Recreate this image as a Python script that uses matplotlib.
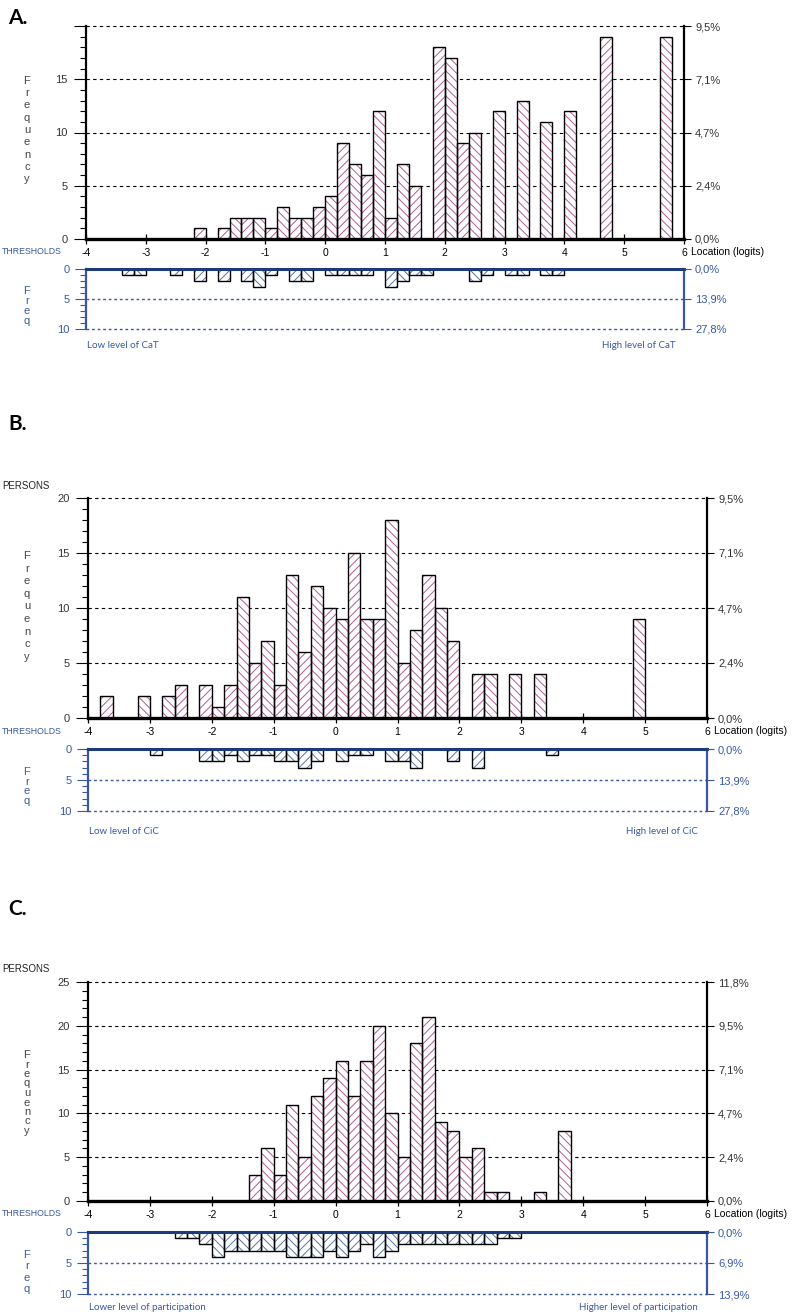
import numpy as np
import matplotlib
matplotlib.use("Agg")
import matplotlib.pyplot as plt
from matplotlib.ticker import MultipleLocator

plt.rcParams["font.family"] = ["Liberation Sans", "DejaVu Sans"]
plt.rcParams["hatch.linewidth"] = 0.7

BIN = 0.2
XMIN, XMAX = -4, 6
x_ticks = [-4, -3, -2, -1, 0, 1, 2, 3, 4, 5, 6]

# A. CaT  (bin left edge, count)
a_person_bins = [-2.2, -1.8, -1.6, -1.4, -1.2, -1.0, -0.8, -0.6, -0.4, -0.2, 0.0, 0.2, 0.4, 0.6,
                 0.8, 1.0, 1.2, 1.4, 1.8, 2.0, 2.2, 2.4, 2.8, 3.2, 3.6, 4.0, 4.6, 5.6]
a_person_counts = [1, 1, 2, 2, 2, 1, 3, 2, 2, 3, 4, 9, 7, 6,
                   12, 2, 7, 5, 18, 17, 9, 10, 12, 13, 11, 12, 19, 19]
a_thr_bins = [-3.4, -3.2, -2.6, -2.2, -1.8, -1.4, -1.2, -1.0, -0.6, -0.4, 0.0, 0.2,
              0.4, 0.6, 1.0, 1.2, 1.4, 1.6, 2.4, 2.6, 3.0, 3.2, 3.6, 3.8]
a_thr_counts = [1, 1, 1, 2, 2, 2, 3, 1, 2, 2, 1, 1,
                1, 1, 3, 2, 1, 1, 2, 1, 1, 1, 1, 1]
a_thr_total = 36

# B. CiC
b_person_bins = [-3.8, -3.2, -2.8, -2.6, -2.2, -2.0, -1.8, -1.6, -1.4, -1.2, -1.0, -0.8, -0.6, -0.4, -0.2,
                 0.0, 0.2, 0.4, 0.6, 0.8, 1.0, 1.2, 1.4, 1.6, 1.8, 2.2, 2.4, 2.8, 3.2, 4.8]
b_person_counts = [2, 2, 2, 3, 3, 1, 3, 11, 5, 7, 3, 13, 6, 12, 10,
                   9, 15, 9, 9, 18, 5, 8, 13, 10, 7, 4, 4, 4, 4, 9]
b_thr_bins = [-3.0, -2.2, -2.0, -1.8, -1.6, -1.4, -1.2, -1.0, -0.8, -0.6,
              -0.4, 0.0, 0.2, 0.4, 0.8, 1.0, 1.2, 1.8, 2.2, 3.4]
b_thr_counts = [1, 2, 2, 1, 2, 1, 1, 2, 2, 3,
                2, 2, 1, 1, 2, 2, 3, 2, 3, 1]
b_thr_total = 36

# C. participation
c_person_bins = [-1.4, -1.2, -1.0, -0.8, -0.6, -0.4, -0.2, 0.0, 0.2, 0.4, 0.6, 0.8,
                 1.0, 1.2, 1.4, 1.6, 1.8, 2.0, 2.2, 2.4, 2.6, 3.2, 3.6]
c_person_counts = [3, 6, 3, 11, 5, 12, 14, 16, 12, 16, 20, 10,
                   5, 18, 21, 9, 8, 5, 6, 1, 1, 1, 8]
c_thr_bins = [-2.6, -2.4, -2.2, -2.0, -1.8, -1.6, -1.4, -1.2, -1.0, -0.8, -0.6, -0.4, -0.2, 0.0,
              0.2, 0.4, 0.6, 0.8, 1.0, 1.2, 1.4, 1.6, 1.8, 2.0, 2.2, 2.4, 2.6, 2.8]
c_thr_counts = [1, 1, 2, 4, 3, 3, 3, 3, 3, 4, 4, 4, 3, 4,
                3, 2, 4, 3, 2, 2, 2, 2, 2, 2, 2, 2, 1, 1]
c_thr_total = 72

PINK = "#b05a98"
HBLUE = "#5873a6"
BLUE = "#3a58a0"
NAVY = "#1f3a78"
GREY = "#333333"

W, H = 800, 1314
fig = plt.figure(figsize=(W / 100, H / 100), dpi=100)


def rect(x0, x1, ytop, ybot):
    return [x0 / W, 1 - ybot / H, (x1 - x0) / W, (ybot - ytop) / H]


def pct(v, n):
    return f"{100 * v / n:.1f}%".replace(".", ",")


def hatched_bars(ax, bins, counts, color):
    for b, c in zip(bins, counts):
        k = int(round((b - XMIN) / BIN))
        h = "////" if k % 2 else "\\\\\\\\"
        ax.bar(b, c, width=BIN, align="edge", color="white", edgecolor=color,
               hatch=h, linewidth=0, zorder=2)
        ax.bar(b, c, width=BIN, align="edge", fill=False, edgecolor="black",
               linewidth=1.0, zorder=3)


def vertical_word(word, x, y_first, y_last, color):
    ys = np.linspace(y_first, y_last, len(word))
    for ch, y in zip(word, ys):
        fig.text(x / W, 1 - y / H, ch, ha="center", va="center", fontsize=8, color=color)


panels = [
    dict(tag="A.", tag_y=18, x0=86, x1=684, main=(26, 239), thr=(269, 329), ymax=20, label_top=False,
         persons_y=None, pb=a_person_bins, pc=a_person_counts, tb=a_thr_bins, tc=a_thr_counts,
         nt=a_thr_total, low="Low level of CaT", high="High level of CaT", text_y=346,
         freq=(81, 179), freq2=(291, 321)),
    dict(tag="B.", tag_y=424, x0=88, x1=707, main=(498, 718), thr=(749, 811), ymax=20, label_top=True,
         persons_y=486, pb=b_person_bins, pc=b_person_counts, tb=b_thr_bins, tc=b_thr_counts,
         nt=b_thr_total, low="Low level of CiC", high="High level of CiC", text_y=831,
         freq=(556, 657), freq2=(772, 801)),
    dict(tag="C.", tag_y=909, x0=88, x1=707, main=(982, 1201), thr=(1232, 1294), ymax=25, label_top=True,
         persons_y=969, pb=c_person_bins, pc=c_person_counts, tb=c_thr_bins, tc=c_thr_counts,
         nt=c_thr_total, low="Lower level of participation", high="Higher level of participation",
         text_y=1308, freq=(1055, 1131), freq2=(1255, 1289)),
]

for p in panels:
    n_persons = sum(p["pc"])
    n_thr = p["nt"]
    ymax = p["ymax"]

    # ---- persons histogram
    ax = fig.add_axes(rect(p["x0"], p["x1"], p["main"][0], p["main"][1]))
    ax.set_xlim(XMIN, XMAX)
    ax.set_ylim(0, ymax)
    hatched_bars(ax, p["pb"], p["pc"], PINK)
    for v in range(5, ymax + 1, 5):
        ax.axhline(v, color="black", lw=0.8, ls=(0, (3, 3)), zorder=1, clip_on=False)
    ax.spines["top"].set_visible(False)
    ax.spines["left"].set_linewidth(1.6)
    ax.spines["right"].set_linewidth(1.6)
    ax.spines["bottom"].set_linewidth(2.4)
    ax.spines["bottom"].set_zorder(4)
    ax.set_xticks(x_ticks)
    ax.set_xticklabels([str(t) for t in x_ticks])
    ax.tick_params(axis="x", direction="inout", length=7, width=0.9, labelsize=7.5, pad=3, colors="black")
    yt = list(range(0, ymax + 1, 5))
    ax.set_yticks(yt)
    ax.set_yticklabels([str(v) if (v < ymax or p["label_top"]) else "" for v in yt])
    ax.yaxis.set_minor_locator(MultipleLocator(1))
    ax.tick_params(axis="y", which="major", length=9, width=0.8, labelsize=8, pad=4, labelcolor=GREY)
    ax.tick_params(axis="y", which="minor", length=4, width=0.8)

    tw = ax.twinx()
    tw.set_ylim(0, ymax)
    for s in tw.spines.values():
        s.set_visible(False)
    tw.set_yticks(yt)
    tw.set_yticklabels([pct(v, n_persons) for v in yt])
    tw.tick_params(axis="y", length=5, width=0.8, labelsize=8, pad=3, labelcolor=GREY)

    fig.text((p["x1"] + 7) / W, 1 - (p["main"][1] + 13) / H, "Location (logits)",
             ha="left", va="center", fontsize=7.5, color="black")
    fig.text(2 / W, 1 - (p["main"][1] + 13) / H, "THRESHOLDS", ha="left", va="center",
             fontsize=6.3, color=BLUE)
    fig.text(8 / W, 1 - p["tag_y"] / H, p["tag"], ha="left", va="center", fontsize=15,
             fontweight="bold", family=["Lato", "DejaVu Sans"], color="black")
    if p["persons_y"] is not None:
        fig.text(2 / W, 1 - p["persons_y"] / H, "PERSONS", ha="left", va="center",
                 fontsize=7, color="#222222")
    vertical_word("Frequency", 27, p["freq"][0], p["freq"][1], "#444444")

    # ---- thresholds histogram (downwards)
    at = fig.add_axes(rect(p["x0"], p["x1"], p["thr"][0], p["thr"][1]))
    at.set_xlim(XMIN, XMAX)
    at.set_ylim(10, 0)
    hatched_bars(at, p["tb"], p["tc"], HBLUE)
    for v in (5, 10):
        at.axhline(v, color=BLUE, lw=1.0, ls=(0, (2, 2)), zorder=1, clip_on=False)
    at.spines["bottom"].set_visible(False)
    at.spines["top"].set_color(NAVY)
    at.spines["top"].set_linewidth(2.2)
    at.spines["top"].set_zorder(4)
    for s in ("left", "right"):
        at.spines[s].set_color(BLUE)
        at.spines[s].set_linewidth(1.6)
    at.set_xticks([])
    at.set_yticks([0, 5, 10])
    at.yaxis.set_minor_locator(MultipleLocator(1))
    at.tick_params(axis="y", which="major", length=8, width=0.8, colors=BLUE, labelsize=8, pad=4)
    at.tick_params(axis="y", which="minor", length=4, width=0.8, colors=BLUE)

    tt = at.twinx()
    tt.set_ylim(10, 0)
    for s in tt.spines.values():
        s.set_visible(False)
    tt.set_yticks([0, 5, 10])
    tt.set_yticklabels([pct(v, n_thr) for v in (0, 5, 10)])
    tt.tick_params(axis="y", length=5, width=0.8, colors=BLUE, labelsize=8, pad=3)

    vertical_word("Freq", 27, p["freq2"][0], p["freq2"][1], BLUE)
    fig.text((p["x0"] + 1) / W, 1 - p["text_y"] / H, p["low"], ha="left", va="center",
             fontsize=7, color=BLUE, family=["Lato", "DejaVu Sans"])
    fig.text((p["x1"] - 9) / W, 1 - p["text_y"] / H, p["high"], ha="right", va="center",
             fontsize=7, color=BLUE, family=["Lato", "DejaVu Sans"])

fig.savefig("out.png", dpi=100)
